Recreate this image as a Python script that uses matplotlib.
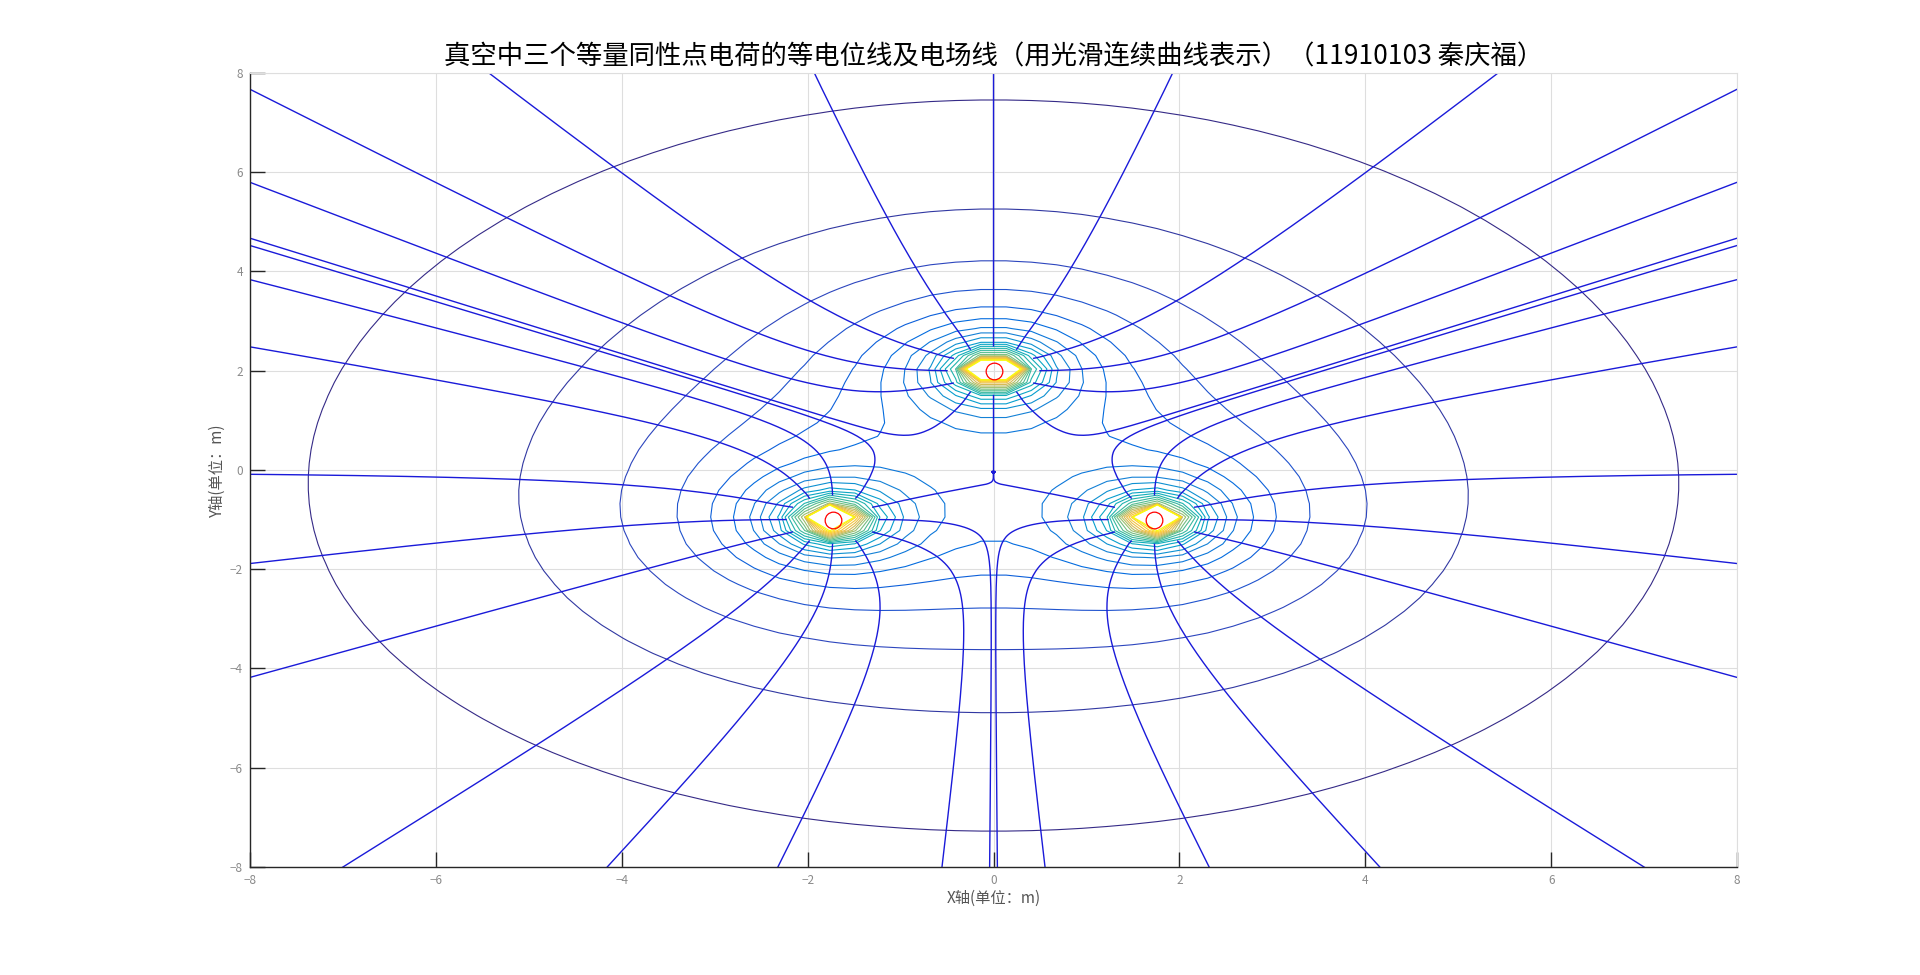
import numpy as np
import matplotlib
matplotlib.use('Agg')
import matplotlib.pyplot as plt
from matplotlib.colors import LinearSegmentedColormap, Normalize

plt.rcParams['font.family'] = ['Noto Sans CJK SC', 'DejaVu Sans']

# 三个等量同性点电荷的位置 (单位: m), 取 kq = 1
charge_x = [0.0, -1.732, 1.732]
charge_y = [2.0, -1.0, -1.0]
charge_q = [1.0, 1.0, 1.0]

# 计算网格: -8..8 取 60 个点
grid_n = 60

# 等电位线的电位值
levels = [0.415, 0.615, 0.815, 1.015, 1.215, 1.415, 1.615, 1.815, 2.015, 2.215,
          2.415, 2.615, 2.815, 3.015, 3.215, 3.415, 3.615, 3.815, 4.015, 4.215,
          4.415, 4.615, 4.815, 5.015]

# 电场线起点: 每个电荷周围 r=0.5 的圆上, 每隔30度一条
start_r = 0.5
start_angles = [0, 30, 60, 90, 120, 150, 180, 210, 240, 270, 300, 330]

ticks = [-8, -6, -4, -2, 0, 2, 4, 6, 8]

# parula 近似
parula = LinearSegmentedColormap.from_list('parula', [
    (0.2081, 0.1663, 0.5292), (0.1707, 0.2919, 0.7792), (0.0060, 0.4086, 0.8828),
    (0.0779, 0.5040, 0.8384), (0.0239, 0.6287, 0.8038), (0.0843, 0.6928, 0.7062),
    (0.3022, 0.7376, 0.5712), (0.6099, 0.7473, 0.4337), (0.8824, 0.7274, 0.3217),
    (0.9955, 0.7861, 0.1967), (0.9763, 0.9831, 0.0538)])


def potential(X, Y):
    V = np.zeros_like(X)
    for xq, yq, q in zip(charge_x, charge_y, charge_q):
        V += q / np.hypot(X - xq, Y - yq)
    return V


def streamlines(xg, yg, U, W, sx, sy, step=0.1, maxvert=3000):
    # 类似 MATLAB streamline: 网格坐标下双线性插值, 每步走 0.1 格
    dx = xg[1] - xg[0]
    dy = yg[1] - yg[0]
    nx, ny = len(xg), len(yg)
    U = U / dx
    W = W / dy
    ix = (np.asarray(sx) - xg[0]) / dx
    iy = (np.asarray(sy) - yg[0]) / dy
    alive = np.ones(len(ix), bool)
    hx, hy = [ix.copy()], [iy.copy()]
    for _ in range(maxvert):
        alive &= (ix >= 0) & (ix <= nx - 1) & (iy >= 0) & (iy <= ny - 1)
        if not alive.any():
            break
        i = np.clip(np.floor(ix).astype(int), 0, nx - 2)
        j = np.clip(np.floor(iy).astype(int), 0, ny - 2)
        fx, fy = ix - i, iy - j
        u = (U[j, i] * (1 - fx) * (1 - fy) + U[j, i + 1] * fx * (1 - fy)
             + U[j + 1, i] * (1 - fx) * fy + U[j + 1, i + 1] * fx * fy)
        w = (W[j, i] * (1 - fx) * (1 - fy) + W[j, i + 1] * fx * (1 - fy)
             + W[j + 1, i] * (1 - fx) * fy + W[j + 1, i + 1] * fx * fy)
        m = np.maximum(np.abs(u), np.abs(w))
        alive &= m > 0
        m = np.where(alive, m, 1.0)
        ix = np.where(alive, ix + u * step / m, ix)
        iy = np.where(alive, iy + w * step / m, iy)
        hx.append(ix.copy())
        hy.append(iy.copy())
    PX = xg[0] + np.array(hx) * dx
    PY = yg[0] + np.array(hy) * dy
    return PX, PY


g = np.linspace(-8, 8, grid_n)
X, Y = np.meshgrid(g, g)
V = potential(X, Y)
dVy, dVx = np.gradient(V, g[1] - g[0], g[1] - g[0])
Ex, Ey = -dVx, -dVy

sx, sy = [], []
for xq, yq in zip(charge_x, charge_y):
    for a in start_angles:
        t = np.deg2rad(a)
        sx.append(xq + start_r * np.cos(t))
        sy.append(yq + start_r * np.sin(t))
PX, PY = streamlines(g, g, Ex, Ey, sx, sy)

fig = plt.figure(figsize=(19.2, 9.75), dpi=100)
ax = fig.add_axes([0.1302, 0.1108, 0.7745, 0.8144])

ax.contour(X, Y, V, levels=levels, cmap=parula,
           norm=Normalize(levels[0], levels[-1]), linewidths=0.8)

ax.plot(PX, PY, color=(0.1, 0.1, 0.85), lw=1.0)

ax.plot(charge_x, charge_y, 'o', mfc='none', mec='red', ms=12, mew=0.9)

ax.set_xlim(-8, 8)
ax.set_ylim(-8, 8)
ax.set_xticks(ticks)
ax.set_yticks(ticks)
ax.grid(True, color='#dedede', lw=0.8)
ax.set_axisbelow(True)
for s in ['top', 'right']:
    ax.spines[s].set_color('#dedede')
    ax.spines[s].set_linewidth(0.8)
for s in ['left', 'bottom']:
    ax.spines[s].set_color('#262626')
    ax.spines[s].set_linewidth(1.0)
ax.tick_params(direction='in', length=10.5, width=1.0, colors='#262626',
               labelcolor='#8a8a8a', labelsize=8.5, pad=5)

ax.set_xlabel('X轴(单位：m)', fontsize=11, color='#555555', labelpad=2)
ax.set_ylabel('Y轴(单位：m)', fontsize=11, color='#555555', labelpad=3)
ax.set_title('真空中三个等量同性点电荷的等电位线及电场线（用光滑连续曲线表示）（11910103 秦庆福）',
             fontsize=19, pad=6, fontweight='light')

fig.savefig('out.png', dpi=100)
